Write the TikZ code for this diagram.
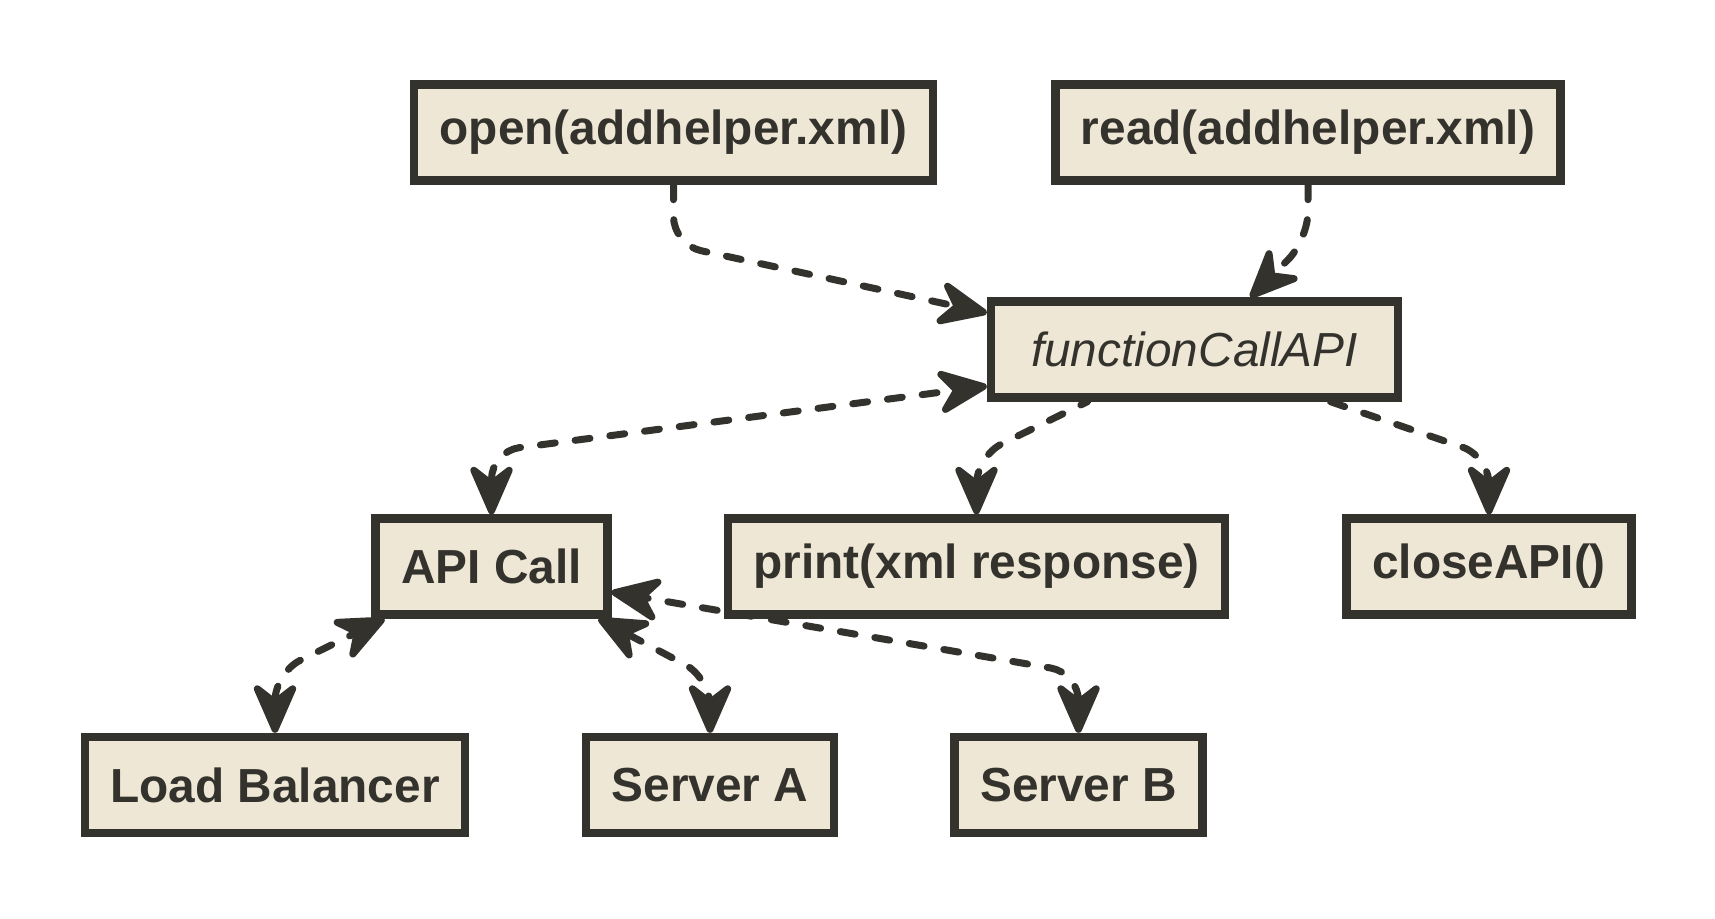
\documentclass[tikz,border=0pt]{standalone}
\usepackage{fontspec}
\setmainfont{Liberation Sans}
\usetikzlibrary{arrows.meta,backgrounds}
\definecolor{ink}{HTML}{34322D}
\definecolor{boxfill}{HTML}{EEE7D5}
\tikzset{
  block/.style={draw=ink,fill=boxfill,line width=4.2pt,text=ink,
    font=\fontsize{23.9}{28}\selectfont\bfseries,
    inner xsep=12.75pt,inner ysep=0pt,minimum height=48pt},
  link/.style={draw=ink,line width=3.5pt,line cap=round,
    dash pattern=on 7.5pt off 10pt,rounded corners=14pt},
  >={Stealth[length=30pt,width=26pt,inset=10pt,round]}
}
\begin{document}
\begin{tikzpicture}[x=0.5pt,y=-0.5pt]
  \useasboundingbox (0,0) rectangle (1715,918);
  % Files
  \node[block] (open) at (673.5,132.5) {open(addhelper.xml)};
  \node[block] (read) at (1308,132.5) {read(addhelper.xml)};
  % Central call
  \node[block,font=\fontsize{23.9}{28}\selectfont\itshape,minimum width=203.5pt] (fca) at (1194.5,349.5) {functionCallAPI};
  % Middle row
  \node[block] (apic) at (491.5,566.5) {API Call};
  \node[block] (print) at (976.5,566.5) {print(xml response)};
  \node[block] (close) at (1489,566.5) {closeAPI()};
  % Back end
  \node[block] (lb) at (275,785) {Load Balancer};
  \node[block] (sa) at (710,785) {Server A};
  \node[block] (sb) at (1078.5,785) {Server B};
  % Links
  \begin{scope}[on background layer]
    \draw[link,->] (open.south) -- ++(0,60) -- (fca.170);
    \draw[link,->] (read.south) -- ++(0,55) -- (fca.43);
    \draw[link,<->] (apic.north) -- ++(0,-63) -- (fca.190);
    \draw[link,<-] (print.north) -- ++(0,-58) -- (fca.206);
    \draw[link,<-] (close.north) -- ++(0,-58) -- (fca.339);
    \draw[link,<->] (lb.north) -- ++(0,-60) -- (apic.206);
    \draw[link,<->] (sa.north) -- ++(0,-55) -- (apic.334);
    \draw[link,<->] (sb.north) -- ++(0,-60) -- (apic.348);
  \end{scope}
\end{tikzpicture}
\end{document}
